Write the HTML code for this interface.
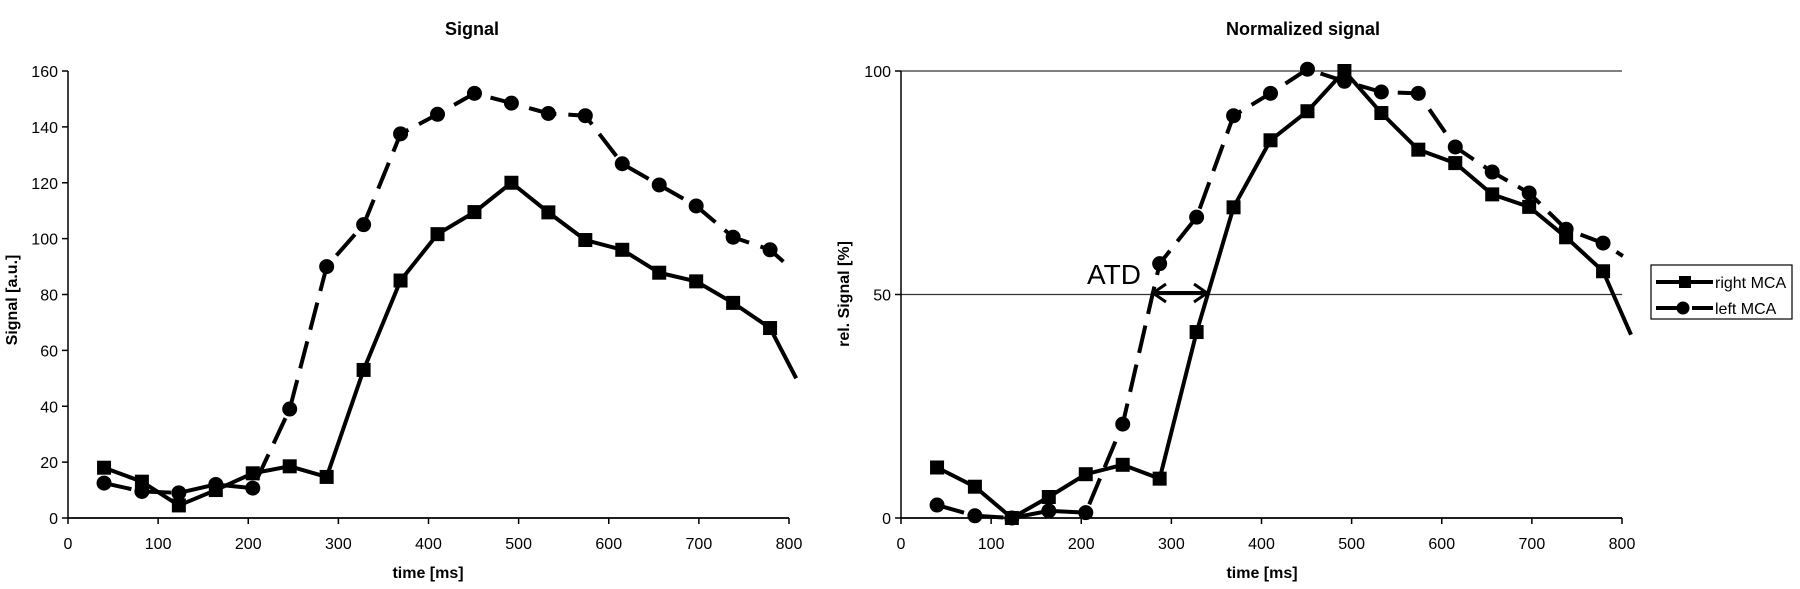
<!DOCTYPE html>
<html><head><meta charset="utf-8"><style>
html,body{margin:0;padding:0;background:#fff;}
svg{display:block;font-family:"Liberation Sans",Arial,sans-serif;}
</style></head><body>
<svg id="chart" width="1800" height="589" viewBox="0 0 1800 589" xmlns="http://www.w3.org/2000/svg">
<text x="472" y="35" text-anchor="middle" font-size="18" font-weight="bold">Signal</text>
<text x="1303" y="35" text-anchor="middle" font-size="18" font-weight="bold">Normalized signal</text>
<text transform="translate(17,300) rotate(-90)" text-anchor="middle" font-size="16" font-weight="bold">Signal [a.u.]</text>
<text x="428" y="578" text-anchor="middle" font-size="16" font-weight="bold">time [ms]</text>
<text transform="translate(849,294) rotate(-90)" text-anchor="middle" font-size="16" font-weight="bold">rel. Signal [%]</text>
<text x="1262" y="578" text-anchor="middle" font-size="16" font-weight="bold">time [ms]</text>
<g id="left"></g>
<g id="right"></g>
<g>
<text x="1087" y="284" font-size="28">ATD</text>
<line x1="1156" y1="293" x2="1204" y2="293" stroke="#000" stroke-width="4"/>
<polyline points="1166,284 1153,293 1166,302" fill="none" stroke="#000" stroke-width="3"/>
<polyline points="1194,284 1207,293 1194,302" fill="none" stroke="#000" stroke-width="3"/>
</g>
<g>
<rect x="1651" y="265" width="141" height="54" fill="#fff" stroke="#000" stroke-width="1.2"/>
<g>
<line x1="1656" y1="282" x2="1713" y2="282" stroke="#000" stroke-width="4"/>
<rect x="1679" y="276" width="12" height="12" fill="#000"/>
<text x="1715" y="288" font-size="16">right MCA</text></g>
<g>
<line x1="1656" y1="308" x2="1713" y2="308" stroke="#000" stroke-width="4" stroke-dasharray="26,10"/>
<circle cx="1683" cy="308" r="6.5" fill="#000"/>
<text x="1715" y="314" font-size="16">left MCA</text></g>
</g>
</svg>
<script>
const times=[40,82,123,164,205,246,287,328,369,410,451,492,533,574,615,656,697,738,779];
const xTicks=[0,100,200,300,400,500,600,700,800];
const leftYTicks=[0,20,40,60,80,100,120,140,160];
const rightYTicks=[0,50,100];
const leftRight=[18,13,4.5,10,16,18.5,14.7,53,85,101.6,109.5,120,109.4,99.5,96,87.8,84.7,77,68];
const leftLeft=[12.5,9.5,9,12,10.7,39,90,105,137.5,144.5,152,148.5,144.8,144,126.8,119.2,111.7,100.5,96];
const leftRightEnd=[808,50];
const leftLeftEnd=[800,90];
const normRight=[11.3,7,0,4.7,9.8,11.9,8.8,41.6,69.5,84.5,91,100,90.6,82.4,79.4,72.4,69.6,62.8,55.2];
const normLeft=[2.9,0.5,0,1.6,1.2,21,56.9,67.3,90,95,100.4,97.7,95.3,95,83,77.4,72.7,64.6,61.5];
const normRightEnd=[810,41];
const normLeftEnd=[801,58.6];
const NS='http://www.w3.org/2000/svg';
function mk(parent,tag,attrs){const e=document.createElementNS(NS,tag);for(const k in attrs)e.setAttribute(k,attrs[k]);parent.appendChild(e);return e;}
function chart(g,x0,x1,ymax,yTicks,grid,sq,ci,sqEnd,ciEnd){
  const y0=518,yTop=71;
  const X=v=>x0+(x1-x0)*v/800;
  const Y=v=>y0-(y0-yTop)*v/ymax;
  if(grid){yTicks.forEach(t=>{if(t>0){const l=mk(g,'line',{x1:x0,x2:x1,y1:Y(t),y2:Y(t),stroke:'#333','stroke-width':1.2});

}});}
  const ya=mk(g,'line',{x1:x0,x2:x0,y1:yTop,y2:y0,stroke:'#000','stroke-width':1.5});
  
  
  const xa=mk(g,'line',{x1:x0,x2:x1,y1:y0,y2:y0,stroke:'#000','stroke-width':1.8});
  
  
  yTicks.forEach(t=>{mk(g,'line',{x1:x0-6,x2:x0,y1:Y(t),y2:Y(t),stroke:'#000','stroke-width':1.5});
    const tx=mk(g,'text',{x:x0-10,y:Y(t)+6,'text-anchor':'end','font-size':16});tx.textContent=t;
    
    });
  xTicks.forEach(t=>{mk(g,'line',{x1:X(t),x2:X(t),y1:y0,y2:y0+6,stroke:'#000','stroke-width':1.5});
    const tx=mk(g,'text',{x:X(t),y:y0+31,'text-anchor':'middle','font-size':16});tx.textContent=t;
    
    });
  let p=times.map((t,i)=>X(t)+','+Y(ci[i])).join(' ')+' '+X(ciEnd[0])+','+Y(ciEnd[1]);
  const lc=mk(g,'polyline',{points:p,fill:'none',stroke:'#000','stroke-width':4,'stroke-dasharray':'28,12'});
  
  
  p=times.map((t,i)=>X(t)+','+Y(sq[i])).join(' ')+' '+X(sqEnd[0])+','+Y(sqEnd[1]);
  const ls=mk(g,'polyline',{points:p,fill:'none',stroke:'#000','stroke-width':4,'stroke-linejoin':'miter'});
  
  
  times.forEach((t,i)=>{const c=mk(g,'circle',{cx:X(t),cy:Y(ci[i]),r:7.5,fill:'#000'});
    
    });
  times.forEach((t,i)=>{const r=mk(g,'rect',{x:X(t)-7,y:Y(sq[i])-7,width:14,height:14,fill:'#000'});
    
    });
}
chart(document.getElementById('left'),68,789,160,leftYTicks,false,leftRight,leftLeft,leftRightEnd,leftLeftEnd);
chart(document.getElementById('right'),901,1622,100,rightYTicks,true,normRight,normLeft,normRightEnd,normLeftEnd);
</script>
</body></html>
